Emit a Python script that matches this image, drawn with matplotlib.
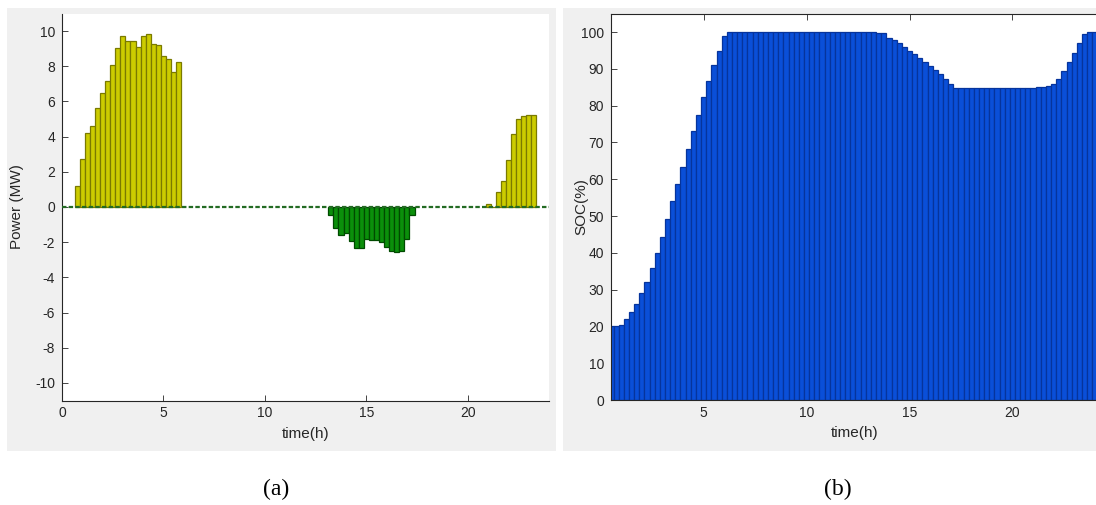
import numpy as np
import matplotlib
matplotlib.use('Agg')
import matplotlib.pyplot as plt
from matplotlib.patches import Rectangle

# power of the storage, 15 min slots (slot k is centred at k*0.25 h)
slot_am = np.arange(3, 24)
power_am = [1.2, 2.75, 4.18, 4.6, 5.6, 6.48, 7.17, 8.06, 9.02, 9.74, 9.45,
            9.45, 9.11, 9.74, 9.83, 9.27, 9.23, 8.6, 8.4, 7.7, 8.25]
slot_pm = np.arange(53, 70)
power_pm = [-0.47, -1.2, -1.57, -1.48, -1.96, -2.33, -2.33, -1.83, -1.9,
            -1.85, -2.0, -2.28, -2.48, -2.56, -2.48, -1.83, -0.47]
slot_ev = np.arange(84, 94)
power_ev = [0.15, 0.0, 0.87, 1.49, 2.66, 4.16, 5.0, 5.16, 5.24, 5.24]

# state of charge, one value per slot 1..96
slot_soc = np.arange(1, 97)
soc = [20, 20, 20, 20.4, 22.0, 23.9, 26.0, 29.0, 32.2, 35.8, 39.9, 44.2,
       49.1, 54.0, 58.7, 63.4, 68.3, 73.2, 77.5, 82.3, 86.6, 90.9, 94.8, 98.8,
       100, 100, 100, 100, 100, 100, 100, 100, 100, 100, 100, 100,
       100, 100, 100, 100, 100, 100, 100, 100, 100, 100, 100, 100,
       100, 100, 100, 100, 100,
       99.8, 99.6, 98.5, 97.8, 96.9, 96.0, 94.8, 93.9, 92.8, 91.8, 90.8, 89.6,
       88.5, 87.3, 86.0, 84.9,
       84.7, 84.7, 84.7, 84.7, 84.7, 84.7, 84.7, 84.7, 84.7, 84.7, 84.7, 84.7,
       84.7, 84.7, 84.7,
       85.1, 85.1, 85.3, 86.0, 87.3, 89.5, 91.9, 94.4, 97.1, 99.5, 100, 100]

dt = 0.25
W, H = 1096, 505
txt = '#262626'
plt.rcParams['font.family'] = ['Liberation Sans', 'DejaVu Sans']
plt.rcParams['axes.unicode_minus'] = False

fig = plt.figure(figsize=(W/100, H/100), dpi=100)
fig.patch.set_facecolor('white')

def box(x0, y0, x1, y1):
    return [x0/W, 1 - y1/H, (x1 - x0)/W, (y1 - y0)/H]

for x0, x1 in [(7, 556), (563, 1096)]:
    fig.patches.append(Rectangle((x0/W, 1 - 451/H), (x1 - x0)/W, (451 - 8)/H,
                                 transform=fig.transFigure, facecolor='#f0f0f0',
                                 edgecolor='none', zorder=-5))

def style(ax):
    ax.set_facecolor('white')
    ax.tick_params(direction='in', length=4, width=0.6, color=txt,
                   labelcolor=txt, labelsize=10)
    ax.tick_params(axis='x', pad=4)
    ax.tick_params(axis='y', pad=5)
    for s in ax.spines.values():
        s.set_color(txt)
        s.set_linewidth(0.8)

# (a) power
ax1 = fig.add_axes(box(62, 13.5, 549, 400.5))
style(ax1)
ax1.spines['top'].set_visible(False)
ax1.spines['right'].set_visible(False)
ax1.bar(slot_am*dt, power_am, width=dt, color='#cccc00', edgecolor='#7a7a00', linewidth=0.9, zorder=2)
ax1.bar(slot_ev*dt, power_ev, width=dt, color='#cccc00', edgecolor='#7a7a00', linewidth=0.9, zorder=2)
ax1.bar(slot_pm*dt, power_pm, width=dt, color='#0b8f0b', edgecolor='#004a00', linewidth=0.9, zorder=2)
ax1.axhline(0, color='#236b23', lw=1.6, ls=(0, (2, 1)), zorder=3)
ax1.set_xlim(0, 24)
ax1.set_ylim(-11, 11)
ax1.set_xticks([0, 5, 10, 15, 20])
ax1.set_yticks(np.arange(-10, 11, 2))
ax1.set_xlabel('time(h)', fontsize=11, color=txt, labelpad=5)
ax1.set_ylabel('Power (MW)', fontsize=11, color=txt, labelpad=8)

# (b) state of charge
ax2 = fig.add_axes(box(611, 13.6, 1097.5, 400))
style(ax2)
ax2.tick_params(top=True)
ax2.bar(slot_soc*dt, soc, width=dt, color='#0a4fd8', edgecolor='#06349c', linewidth=0.9, zorder=2)
ax2.set_xlim(0.5, 24.13)
ax2.set_ylim(0, 105)
ax2.set_xticks([5, 10, 15, 20])
ax2.set_yticks(np.arange(0, 101, 10))
ax2.set_xlabel('time(h)', fontsize=11, color=txt, labelpad=5)
ax2.set_ylabel('SOC(%)', fontsize=11, color=txt)
ax2.yaxis.set_label_coords(-0.046, 0.5)

fig.text(276/W, 1 - 489/H, '(a)', family='Liberation Serif', fontsize=17,
         ha='center', va='center', color='black')
fig.text(838/W, 1 - 489/H, '(b)', family='Liberation Serif', fontsize=17,
         ha='center', va='center', color='black')

fig.savefig('out.png', dpi=100, facecolor='white')
